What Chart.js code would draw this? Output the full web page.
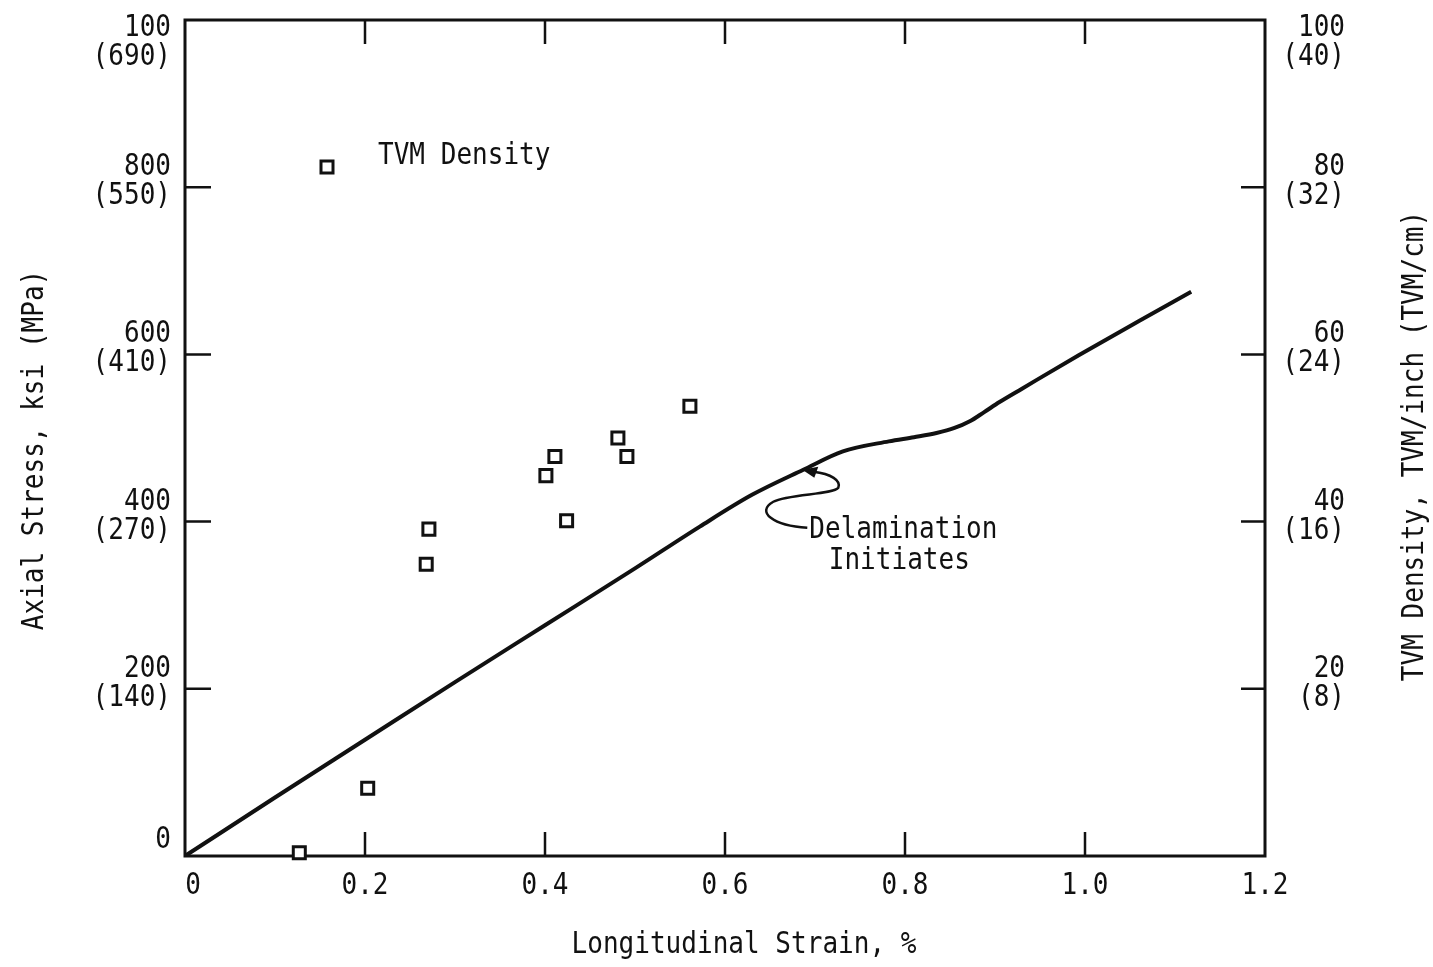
<!DOCTYPE html>
<html>
<head>
<meta charset="utf-8">
<script src="https://cdn.jsdelivr.net/npm/chart.js@4.4.0/dist/chart.umd.min.js"></script>
<style>
  html, body { margin: 0; padding: 0; background: #fff; }
  #wrap { width: 1433px; height: 967px; }
</style>
</head>
<body>
<div id="wrap"><canvas id="chart" width="1433" height="967"></canvas></div>
<script>
// stress-strain curve: strain (%) vs axial stress (ksi)
const curveStrain = [0, 0.1, 0.2, 0.3, 0.4, 0.5, 0.572, 0.63, 0.687, 0.731, 0.782, 0.81, 0.835, 0.855, 0.872, 0.888, 0.905, 0.93, 0.993, 1.06, 1.118];
const curveStress = [0, 7.0, 13.9, 20.8, 27.6, 34.4, 39.4, 43.2, 46.2, 48.4, 49.6, 50.1, 50.6, 51.2, 52.0, 53.1, 54.3, 55.9, 59.9, 64.0, 67.5];

// TVM density readings: strain (%) vs TVM/inch
const tvmStrain = [0.127, 0.203, 0.268, 0.271, 0.401, 0.411, 0.424, 0.481, 0.491, 0.561];
const tvmDensity = [0.4, 8.1, 34.9, 39.1, 45.5, 47.8, 40.1, 50.0, 47.8, 53.8];

const strainTicks = [0, 0.2, 0.4, 0.6, 0.8, 1.0, 1.2];
const strainLabels = ['0', '0.2', '0.4', '0.6', '0.8', '1.0', '1.2'];
const stressTicks = [0, 20, 40, 60, 80, 100];
const stressLabels = [['0'], ['200', '(140)'], ['400', '(270)'], ['600', '(410)'], ['800', '(550)'], ['100', '(690)']];
const densityLabels = [[], ['20', '(8)'], ['40', '(16)'], ['60', '(24)'], ['80', '(32)'], ['100', '(40)']];

const INK = '#111';
const FONT = '31px "DejaVu Sans Mono", monospace';

// typewriter-style text: tall glyphs squeezed horizontally
function text(ctx, str, x, y, align, vertical) {
  ctx.save();
  ctx.translate(x, y);
  if (vertical) ctx.rotate(-Math.PI / 2);
  ctx.scale(0.84, 1);
  ctx.font = FONT;
  ctx.fillStyle = INK;
  ctx.textAlign = align;
  ctx.textBaseline = 'middle';
  ctx.fillText(str, 0, 0);
  ctx.restore();
}

const framePlugin = {
  id: 'frame',
  beforeDatasetsDraw(chart) {
    const { ctx, chartArea: a, scales } = chart;
    ctx.save();
    ctx.strokeStyle = INK;
    ctx.lineWidth = 3;
    ctx.strokeRect(a.left, a.top, a.right - a.left, a.bottom - a.top);
    ctx.lineWidth = 2.5;
    ctx.beginPath();
    strainTicks.slice(1, -1).forEach(v => {
      const x = scales.x.getPixelForValue(v);
      ctx.moveTo(x, a.bottom); ctx.lineTo(x, a.bottom - 24);
      ctx.moveTo(x, a.top); ctx.lineTo(x, a.top + 24);
    });
    stressTicks.slice(1, -1).forEach(v => {
      const y = scales.y.getPixelForValue(v);
      ctx.moveTo(a.left, y); ctx.lineTo(a.left + 26, y);
      const y2 = scales.y2.getPixelForValue(v);
      ctx.moveTo(a.right, y2); ctx.lineTo(a.right - 24, y2);
    });
    ctx.stroke();
    ctx.restore();
  },
  afterDraw(chart) {
    const { ctx, chartArea: a, scales } = chart;

    // x tick labels
    strainTicks.forEach((v, i) => {
      const x = scales.x.getPixelForValue(v) + (i === 0 ? 8 : 0);
      text(ctx, strainLabels[i], x, a.bottom + 30, 'center');
    });

    // left (ksi / MPa) and right (TVM/inch / TVM/cm) tick labels
    const stacked = (lines, x, y, top) => {
      if (lines.length === 1) { text(ctx, lines[0], x, y - 16, 'right'); return; }
      const d1 = top ? 8 : -20, d2 = top ? 37 : 9;
      if (lines[0]) text(ctx, lines[0], x, y + d1, 'right');
      if (lines[1]) text(ctx, lines[1], x, y + d2, 'right');
    };
    stressTicks.forEach((v, i) => {
      const top = v === stressTicks[stressTicks.length - 1];
      stacked(stressLabels[i], a.left - 14, scales.y.getPixelForValue(v), top);
      if (densityLabels[i].length) {
        stacked(densityLabels[i], a.right + 80, scales.y2.getPixelForValue(v), top);
      }
    });

    // axis titles
    text(ctx, 'Axial Stress, ksi (MPa)', 35, 450, 'center', true);
    text(ctx, 'TVM Density, TVM/inch (TVM/cm)', 1415, 446, 'center', true);
    text(ctx, 'Longitudinal Strain, %', 744, 945, 'center');

    // legend
    ctx.save();
    ctx.strokeStyle = INK;
    ctx.lineWidth = 3;
    ctx.strokeRect(a.left + 136, a.top + 141, 12, 12);
    ctx.restore();
    text(ctx, 'TVM Density', a.left + 193, a.top + 136, 'left');

    // delamination callout, anchored on the curve
    const tx = scales.x.getPixelForValue(curveStrain[8]);
    const ty = scales.y.getPixelForValue(curveStress[8]);
    ctx.save();
    ctx.strokeStyle = INK;
    ctx.fillStyle = INK;
    ctx.lineWidth = 2.5;
    ctx.beginPath();
    ctx.moveTo(tx + 4, ty + 58);
    ctx.bezierCurveTo(tx - 30, ty + 56, tx - 48, ty + 42, tx - 30, ty + 32);
    ctx.bezierCurveTo(tx - 15, ty + 24, tx + 30, ty + 25, tx + 35, ty + 18);
    ctx.bezierCurveTo(tx + 38, ty + 11, tx + 28, ty + 4, tx + 10, ty + 2);
    ctx.stroke();
    ctx.beginPath();
    ctx.moveTo(tx - 1, ty);
    ctx.lineTo(tx + 15, ty - 3);
    ctx.lineTo(tx + 11, ty + 8);
    ctx.closePath();
    ctx.fill();
    ctx.restore();
    text(ctx, 'Delamination', tx + 6, ty + 60, 'left');
    text(ctx, 'Initiates', tx + 96, ty + 91, 'center');
  }
};

new Chart(document.getElementById('chart'), {
  type: 'scatter',
  data: {
    datasets: [
      {
        label: 'Stress',
        data: curveStrain.map((x, i) => ({ x, y: curveStress[i] })),
        showLine: true,
        borderColor: INK,
        borderWidth: 4,
        pointRadius: 0,
        cubicInterpolationMode: 'monotone',
        yAxisID: 'y'
      },
      {
        label: 'TVM Density',
        data: tvmStrain.map((x, i) => ({ x, y: tvmDensity[i] })),
        pointStyle: 'rect',
        pointRadius: 8.5,
        borderWidth: 3,
        borderColor: INK,
        backgroundColor: '#fff',
        clip: false,
        yAxisID: 'y2'
      }
    ]
  },
  options: {
    responsive: false,
    animation: false,
    layout: { padding: { left: 185, right: 168, top: 20, bottom: 111 } },
    plugins: { legend: { display: false }, tooltip: { enabled: false } },
    scales: {
      x: { type: 'linear', min: 0, max: 1.2, display: false },
      y: { type: 'linear', min: 0, max: 100, display: false },
      y2: { type: 'linear', min: 0, max: 100, display: false }
    }
  },
  plugins: [framePlugin]
});
</script>
</body>
</html>
